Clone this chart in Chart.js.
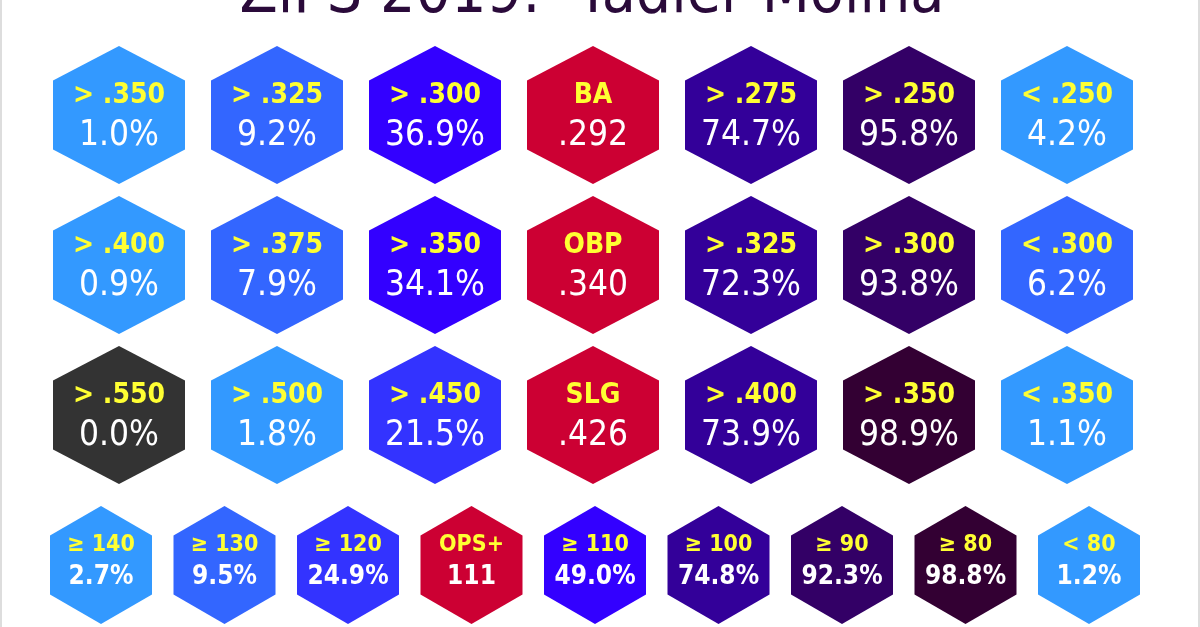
<!DOCTYPE html>
<html>
<head>
<meta charset="utf-8">
<script src="https://cdn.jsdelivr.net/npm/chart.js@4"></script>
<style>
  html, body { margin: 0; padding: 0; background: #fff; }
  #wrap { width: 1200px; height: 627px; position: relative; box-sizing: border-box; border-left: 2px solid #ddd; border-right: 2px solid #ddd; }
</style>
</head>
<body>
<div id="wrap"><canvas id="hexes"></canvas></div>
<script>
const title = "ZiPS 2019:  Yadier Molina";

// rows of 7 (BA, OBP, SLG), row of 9 (OPS+)
const baLabels  = ["> .350", "> .325", "> .300", "BA", "> .275", "> .250", "< .250"];
const baValues  = ["1.0%", "9.2%", "36.9%", ".292", "74.7%", "95.8%", "4.2%"];
const obpLabels = ["> .400", "> .375", "> .350", "OBP", "> .325", "> .300", "< .300"];
const obpValues = ["0.9%", "7.9%", "34.1%", ".340", "72.3%", "93.8%", "6.2%"];
const slgLabels = ["> .550", "> .500", "> .450", "SLG", "> .400", "> .350", "< .350"];
const slgValues = ["0.0%", "1.8%", "21.5%", ".426", "73.9%", "98.9%", "1.1%"];
const opsLabels = ["\u2265 140", "\u2265 130", "\u2265 120", "OPS+", "\u2265 110", "\u2265 100", "\u2265 90", "\u2265 80", "< 80"];
const opsValues = ["2.7%", "9.5%", "24.9%", "111", "49.0%", "74.8%", "92.3%", "98.8%", "1.2%"];

const baColors  = ["#3399ff", "#3366ff", "#3300ff", "#cc0033", "#330099", "#330066", "#3399ff"];
const obpColors = ["#3399ff", "#3366ff", "#3300ff", "#cc0033", "#330099", "#330066", "#3366ff"];
const slgColors = ["#333333", "#3399ff", "#3333ff", "#cc0033", "#330099", "#330033", "#3399ff"];
const opsColors = ["#3399ff", "#3366ff", "#3333ff", "#cc0033", "#3300ff", "#330099", "#330066", "#330033", "#3399ff"];

function rowData(labels, row) {
  return labels.map((l, i) => ({ x: i, y: row }));
}

function hexSet(labels, values, colors, row, xAxis, hw, hh, big) {
  return {
    data: rowData(labels, row),
    xAxisID: xAxis,
    pointRadius: 0,
    hexW: hw, hexH: hh, big: big,
    labels: labels, values: values, colors: colors
  };
}

const hexPlugin = {
  id: 'hexPlugin',
  afterDatasetsDraw(chart) {
    const ctx = chart.ctx;
    ctx.save();
    ctx.fillStyle = '#2a0a3a';
    ctx.font = '62px "DejaVu Sans Condensed"';
    ctx.textAlign = 'center';
    ctx.textBaseline = 'alphabetic';
    ctx.fillText(title, 590, 12);

    chart.data.datasets.forEach((ds, di) => {
      const meta = chart.getDatasetMeta(di);
      meta.data.forEach((pt, i) => {
        ctx.beginPath();
        for (let k = 0; k < 6; k++) {
          const a = Math.PI / 3 * k - Math.PI / 2;
          const px = pt.x + ds.hexW * Math.cos(a) / Math.cos(Math.PI / 6);
          const py = pt.y + ds.hexH * Math.sin(a);
          if (k === 0) ctx.moveTo(px, py); else ctx.lineTo(px, py);
        }
        ctx.closePath();
        ctx.fillStyle = ds.colors[i];
        ctx.fill();

        ctx.textAlign = 'center';
        ctx.textBaseline = 'middle';
        if (ds.big) {
          ctx.fillStyle = '#ffff33';
          ctx.font = 'bold 28px "DejaVu Sans Condensed"';
          ctx.fillText(ds.labels[i], pt.x, pt.y - 19);
          ctx.fillStyle = '#ffffff';
          ctx.font = '35px "DejaVu Sans Condensed"';
          ctx.fillText(ds.values[i], pt.x, pt.y + 21);
        } else {
          ctx.fillStyle = '#ffff33';
          ctx.font = 'bold 23px "DejaVu Sans Condensed"';
          ctx.fillText(ds.labels[i], pt.x, pt.y - 20);
          ctx.fillStyle = '#ffffff';
          ctx.font = 'bold 26px "DejaVu Sans Condensed"';
          ctx.fillText(ds.values[i], pt.x, pt.y + 12);
        }
      });
    });
    ctx.restore();
  }
};

new Chart(document.getElementById('hexes'), {
  type: 'scatter',
  data: {
    datasets: [
      hexSet(baLabels, baValues, baColors, 0, 'x7', 66, 69, true),
      hexSet(obpLabels, obpValues, obpColors, 1, 'x7', 66, 69, true),
      hexSet(slgLabels, slgValues, slgColors, 2, 'x7', 66, 69, true),
      hexSet(opsLabels, opsValues, opsColors, 3, 'x9', 51, 59, false)
    ]
  },
  options: {
    responsive: true,
    maintainAspectRatio: false,
    animation: false,
    layout: { padding: 0 },
    plugins: { legend: { display: false }, tooltip: { enabled: false } },
    scales: {
      x7: { type: 'linear', display: false, min: -117 / 158, max: -117 / 158 + 1196 / 158 },
      x9: { type: 'linear', display: false, min: -99 / 123.5, max: -99 / 123.5 + 1196 / 123.5 },
      y: { type: 'linear', display: false, reverse: true, min: -115 / 150, max: -115 / 150 + 627 / 150 }
    }
  },
  plugins: [hexPlugin]
});
</script>
</body>
</html>
